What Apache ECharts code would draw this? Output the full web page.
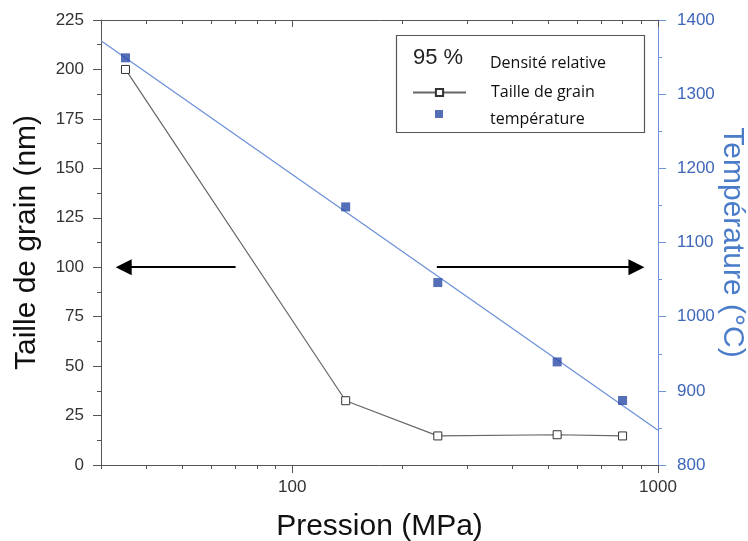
<!DOCTYPE html>
<html><head><meta charset="utf-8">
<script src="https://cdn.jsdelivr.net/npm/echarts@6/dist/echarts.min.js"></script>
<style>html,body{margin:0;padding:0;background:#fff}#c{width:748px;height:541px}</style>
</head><body><div id="c"></div>
<script>
// ---- data ----
const pressure = [35, 140, 250, 530, 800];            // MPa
const grainSize = [200, 32.5, 14.7, 15.3, 14.7];       // nm
const temperature = [1349, 1148, 1046, 939, 887];      // °C
const fitPressure = [30, 1000];
const fitTemperature = [1372, 847];
const leftArrowX = [70, 34.6];       // tail -> head (MPa)
const rightArrowX = [248.5, 873];    // tail -> head (MPa)
const arrowLevel = 100;              // nm, on left axis
const xMajorTicks = [100, 1000];
const xMinorTicks = [30, 40, 50, 60, 70, 80, 90, 200, 300, 400, 500, 600, 700, 800, 900];
const legendTitle = '95 %';
const legendSubtitle = 'Densité relative';

const F = 'Liberation Sans, Arial, sans-serif';
const LF = 'Open Sans, Liberation Sans, sans-serif';
const axisGray = '#555';
const blueAxis = '#6f92d8';
const fmt = v => String(Math.round(v));

const logBase = {type: 'log', min: 30, max: 1000, splitLine: {show: false}, minorTick: {show: false}, minorSplitLine: {show: false}};

const chart = echarts.init(document.getElementById('c'), null, {renderer: 'canvas'});
chart.setOption({
  animation: false,
  grid: {left: 101, right: 90, top: 20, bottom: 76, containLabel: false, outerBoundsMode: 'none'},
  legend: [
    {data: ['Taille de grain'], left: 412, top: 84.5, orient: 'vertical', itemWidth: 53, itemHeight: 9, padding: 0,
     selectedMode: false, textStyle: {fontSize: 16, fontFamily: LF, color: '#111', padding: [0, 0, 0, 20]}},
    {data: ['température'], left: 435, top: 110, orient: 'vertical', itemWidth: 8, itemHeight: 8, padding: 0,
     selectedMode: false, formatter: '{t|{name}}',
     textStyle: {fontSize: 16, fontFamily: LF, color: '#111', padding: [0, 0, 0, 42],
       rich: {t: {fontSize: 16, fontFamily: LF, color: '#111', padding: [10, 0, 0, 0]}}}}
  ],
  graphic: [
    {type: 'rect', shape: {x: 396.5, y: 35.5, width: 248, height: 97}, style: {fill: 'none', stroke: '#555', lineWidth: 1.2}, z: 10},
    {type: 'text', x: 438, y: 58, style: {text: legendTitle, font: '22px ' + F, fill: '#222', align: 'center', verticalAlign: 'middle'}, z: 10},
    {type: 'text', x: 490, y: 63, style: {text: legendSubtitle, font: '16px ' + LF, fill: '#111', align: 'left', verticalAlign: 'middle'}, z: 10}
  ],
  xAxis: [
    Object.assign({}, logBase, {position: 'bottom', name: 'Pression (MPa)', nameLocation: 'middle', nameGap: 47,
      nameMoveOverlap: false,
      nameTextStyle: {fontSize: 30, color: '#111', fontFamily: F},
      axisLine: {show: true, lineStyle: {color: axisGray, width: 1}},
      axisTick: {show: true, customValues: xMajorTicks, length: 8, lineStyle: {color: axisGray}},
      axisLabel: {customValues: xMajorTicks, fontSize: 17, color: '#333', fontFamily: F, margin: 14, formatter: fmt}}),
    Object.assign({}, logBase, {position: 'bottom',
      axisLine: {show: false},
      axisTick: {show: true, customValues: xMinorTicks, length: 4, lineStyle: {color: axisGray}},
      axisLabel: {show: false}}),
    Object.assign({}, logBase, {position: 'top',
      axisLine: {show: true, lineStyle: {color: axisGray, width: 1}},
      axisTick: {show: true, inside: true, customValues: xMajorTicks, length: 7, lineStyle: {color: axisGray}},
      axisLabel: {show: false}}),
    Object.assign({}, logBase, {position: 'top',
      axisLine: {show: false},
      axisTick: {show: true, inside: true, customValues: xMinorTicks, length: 4, lineStyle: {color: axisGray}},
      axisLabel: {show: false}})
  ],
  yAxis: [
    {type: 'value', position: 'left', min: 0, max: 225, interval: 25,
     name: 'Taille de grain (nm)', nameLocation: 'middle', nameGap: 59, nameRotate: 90, nameMoveOverlap: false,
     nameTextStyle: {fontSize: 30, color: '#111', fontFamily: F},
     axisLine: {show: true, lineStyle: {color: axisGray, width: 1}},
     axisTick: {show: true, length: 8, lineStyle: {color: axisGray}},
     minorTick: {show: true, splitNumber: 2, length: 4, lineStyle: {color: axisGray}},
     axisLabel: {fontSize: 17, color: '#333', fontFamily: F, margin: 17, formatter: fmt},
     splitLine: {show: false}, minorSplitLine: {show: false}},
    {type: 'value', position: 'right', min: 800, max: 1400, interval: 100,
     name: 'Température (°C)', nameLocation: 'middle', nameGap: 59, nameRotate: -90, nameMoveOverlap: false,
     nameTextStyle: {fontSize: 30, color: '#4a7cc9', fontFamily: F},
     axisLine: {show: true, lineStyle: {color: blueAxis, width: 1}},
     axisTick: {show: true, length: 8, lineStyle: {color: blueAxis}},
     minorTick: {show: true, splitNumber: 2, length: 4, lineStyle: {color: blueAxis}},
     axisLabel: {fontSize: 17, color: '#3f66b8', fontFamily: F, margin: 19, formatter: fmt},
     splitLine: {show: false}, minorSplitLine: {show: false}}
  ],
  series: [
    {name: 'Taille de grain', type: 'line', xAxisIndex: 0, yAxisIndex: 0,
     data: pressure.map((p, i) => [p, grainSize[i]]),
     symbol: 'rect', symbolSize: 8,
     itemStyle: {color: '#fff', borderColor: '#333', borderWidth: 1},
     lineStyle: {color: '#666', width: 1.2}, z: 3,
     markLine: {silent: true, symbol: ['none', 'triangle'], symbolSize: 16,
       label: {show: false}, lineStyle: {color: '#000', width: 2, type: 'solid'},
       emphasis: {disabled: true},
       data: [
         [{coord: [leftArrowX[0], arrowLevel]}, {coord: [leftArrowX[1], arrowLevel]}],
         [{coord: [rightArrowX[0], arrowLevel]}, {coord: [rightArrowX[1], arrowLevel]}]
       ]}},
    {name: 'ajustement', type: 'line', xAxisIndex: 0, yAxisIndex: 1,
     data: fitPressure.map((p, i) => [p, fitTemperature[i]]),
     symbol: 'none', lineStyle: {color: '#6a8fd8', width: 1.2}, z: 2},
    {name: 'température', type: 'scatter', xAxisIndex: 0, yAxisIndex: 1,
     data: pressure.map((p, i) => [p, temperature[i]]),
     symbol: 'rect', symbolSize: 9, itemStyle: {color: '#2b4aa6'}, z: 4}
  ]
});
</script></body></html>
